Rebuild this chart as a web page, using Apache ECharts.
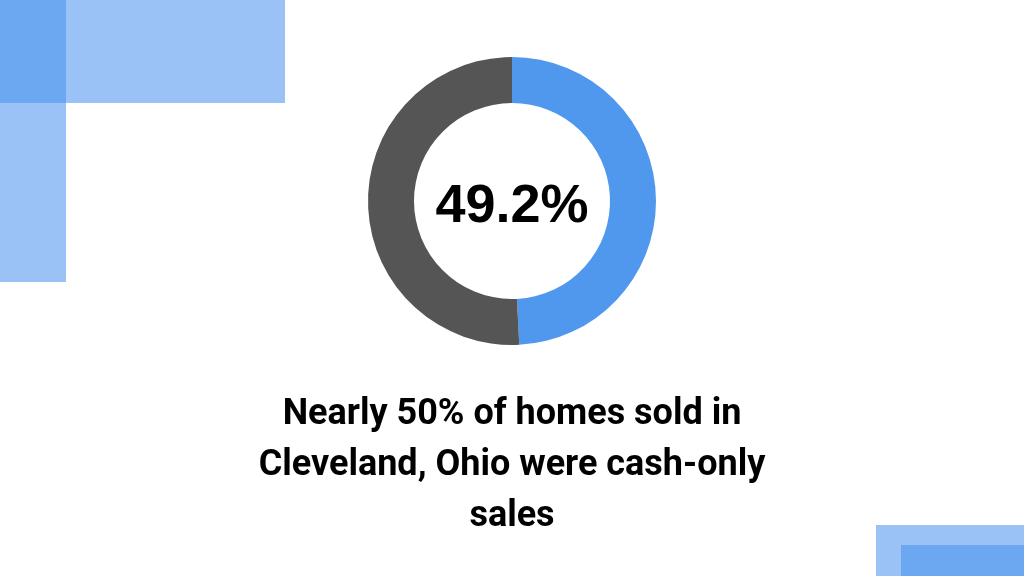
<!DOCTYPE html>
<html>
<head>
<meta charset="utf-8">
<script src="https://cdn.jsdelivr.net/npm/echarts@6/dist/echarts.min.js"></script>
<style>
html,body{margin:0;padding:0;background:#fff;}
#main{width:1024px;height:576px;}
</style>
</head>
<body>
<div id="main"></div>
<script>
const categories = ['Cash-only sales', 'Other sales'];
const values = [49.2, 50.8];
const centerLabel = '49.2%';
const captionLines = ['Nearly 50% of homes sold in', 'Cleveland, Ohio were cash-only', 'sales'];
const colors = ['#4F98EE', '#555555'];

const chart = echarts.init(document.getElementById('main'), null, {renderer: 'canvas'});
chart.setOption({
  animation: false,
  backgroundColor: '#ffffff',
  graphic: [
    {type: 'rect', shape: {x: 0, y: 0, width: 285, height: 103}, style: {fill: '#9AC2F6'}, z: 0},
    {type: 'rect', shape: {x: 0, y: 103, width: 66, height: 179}, style: {fill: '#9AC2F6'}, z: 0},
    {type: 'rect', shape: {x: 0, y: 0, width: 66, height: 103}, style: {fill: '#6CA8F1'}, z: 0},
    {type: 'rect', shape: {x: 876, y: 525, width: 148, height: 51}, style: {fill: '#9AC2F6'}, z: 0},
    {type: 'rect', shape: {x: 901, y: 545, width: 123, height: 31}, style: {fill: '#6CA8F1'}, z: 0},
    {type: 'text', x: 512, y: 207, z: 10, style: {
      text: centerLabel, fill: '#000', font: 'bold 54px "Liberation Sans", Arial, sans-serif',
      align: 'center', verticalAlign: 'middle'}},
    {type: 'text', x: 512, y: 466, z: 10, style: {
      text: captionLines.join('\n'), fill: '#000', font: 'bold 36px Roboto, sans-serif',
      lineHeight: 51, align: 'center', verticalAlign: 'middle'}}
  ],
  series: [{
    type: 'pie',
    center: [512, 201],
    radius: [98, 144],
    startAngle: 90,
    clockwise: true,
    silent: true,
    label: {show: false},
    labelLine: {show: false},
    itemStyle: {borderWidth: 0},
    data: categories.map((c, i) => ({name: c, value: values[i], itemStyle: {color: colors[i]}}))
  }]
});
</script>
</body>
</html>
